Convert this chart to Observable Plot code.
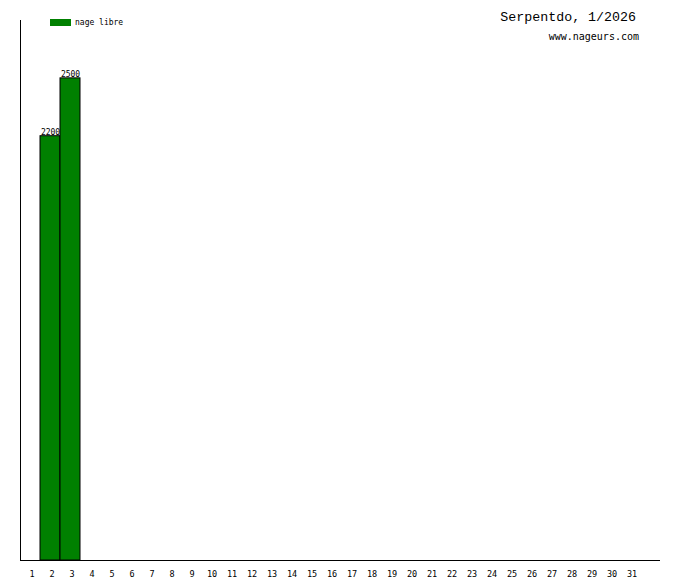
<!DOCTYPE html>
<html><head><meta charset="utf-8">
<script src="https://cdn.jsdelivr.net/npm/d3@7"></script>
<script src="https://cdn.jsdelivr.net/npm/@observablehq/plot@0.6"></script>
<style>
body{margin:0;background:#fff;}
#wrap{position:relative;width:680px;height:580px;font-family:"DejaVu Sans Mono",monospace;}
#title{position:absolute;right:44px;top:10px;font-size:13.3px;color:#000;font-family:"Liberation Mono","DejaVu Sans Mono",monospace;}
#site{position:absolute;right:41px;top:31px;font-size:10px;color:#000;}
#legend{position:absolute;left:50px;top:18px;font-size:8px;display:flex;align-items:center;}
#legend span.sw{display:inline-block;width:21px;height:7px;background:#008000;margin-right:4px;}
</style>
</head><body>
<div id="wrap">
<div id="chart"></div>
<div id="title">Serpentdo, 1/2026</div>
<div id="site">www.nageurs.com</div>
<div id="legend"><span class="sw"></span><span>nage libre</span></div>
</div>
<script>
const days = d3.range(1, 32);
const seriesName = "nage libre";
const barDays = [2, 3];
const barValues = [2200, 2500];
const bars = barDays.map((d, i) => ({day: d, value: barValues[i]}));

const chart = Plot.plot({
  width: 680,
  height: 580,
  marginLeft: 20,
  marginRight: 20,
  marginTop: 20,
  marginBottom: 20,
  x: {type: "linear", domain: [1, 33], axis: null},
  y: {domain: [0, 2800], axis: null},
  style: {fontFamily: "DejaVu Sans Mono, monospace", background: "#fff"},
  marks: [
    Plot.rectY(bars, {x1: "day", x2: d => d.day + 1, y1: 0, y2: "value", fill: "#008000", stroke: "#000", strokeWidth: 1}),
    Plot.text(bars, {x: d => d.day + 0.5, y: "value", text: d => String(d.value), dy: -4, fontSize: 8, fill: "#000"}),
    Plot.ruleX([1], {stroke: "#000", strokeWidth: 1}),
    Plot.ruleY([0], {stroke: "#000", strokeWidth: 1}),
    Plot.text(days, {x: d => d + 0.5, y: 0, text: d => String(d), dy: 14, dx: 1.5, fontSize: 8.5, fill: "#000"})
  ]
});
document.getElementById("chart").appendChild(chart);
</script>
</body></html>
